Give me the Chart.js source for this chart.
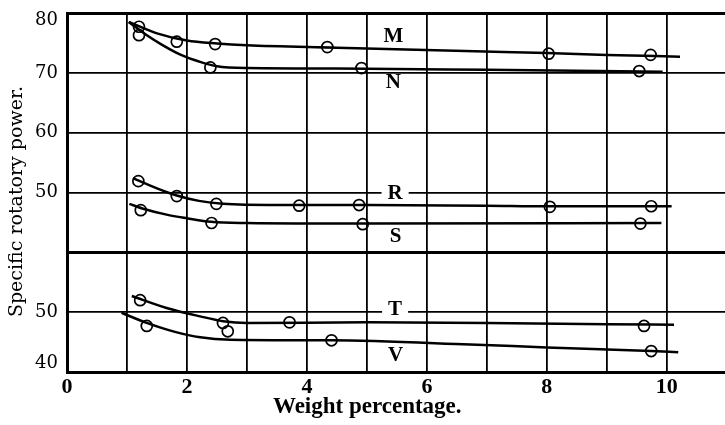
<!DOCTYPE html>
<html>
<head>
<meta charset="utf-8">
<script src="https://cdn.jsdelivr.net/npm/chart.js@4.4.0/dist/chart.umd.min.js"></script>
<style>
  html, body { margin: 0; padding: 0; background: #fff; }
  #wrap { width: 725px; height: 425px; }
</style>
</head>
<body>
<div id="wrap"><canvas id="myChart" width="725" height="425"></canvas></div>
<script>
// upper block (M N R S) is read on 40..80, lower block (T V) on 40..60,
// both stacked on one shared axis
const seriesNames = ["M", "N", "R", "S", "T", "V"];
const blockShift = [20, 20, 20, 20, 40, 40];

const pointsM = [[1.2, 77.7], [1.83, 75.2], [2.47, 74.8], [4.34, 74.3], [8.03, 73.2], [9.73, 73.0]];
const pointsN = [[1.2, 76.3], [2.39, 70.9], [4.91, 70.8], [9.54, 70.3]];
const pointsR = [[1.19, 51.9], [1.83, 49.4], [2.49, 48.1], [3.87, 47.8], [4.87, 47.9], [8.05, 47.6], [9.74, 47.7]];
const pointsS = [[1.23, 47.05], [2.41, 44.9], [4.93, 44.7], [9.56, 44.8]];
const pointsT = [[1.22, 52.0], [2.6, 48.2], [2.68, 46.8], [3.71, 48.3], [9.62, 47.7]];
const pointsV = [[1.33, 47.7], [4.41, 45.3], [9.74, 43.5]];

const curveM = [[1.03, 78.5], [1.5, 76.6], [2.0, 75.4], [2.5, 74.9], [3.0, 74.6], [4.5, 74.2], [6.8, 73.6], [8.0, 73.3], [9.0, 73.0], [10.22, 72.7]];
const curveN = [[1.03, 78.5], [1.3, 76.5], [1.6, 74.6], [1.9, 73.0], [2.2, 71.9], [2.5, 71.1], [3.0, 70.8], [5.0, 70.7], [7.0, 70.5], [9.93, 70.2]];
const curveR = [[1.1, 52.4], [1.5, 50.7], [1.83, 49.5], [2.2, 48.6], [2.6, 48.1], [3.5, 47.9], [5.0, 47.9], [7.0, 47.8], [8.0, 47.7], [10.08, 47.7]];
const curveS = [[1.04, 48.1], [1.3, 47.2], [1.66, 46.3], [2.0, 45.7], [2.4, 45.1], [3.0, 44.9], [5.0, 44.8], [9.91, 44.9]];
const curveT = [[1.08, 52.7], [1.66, 50.7], [2.22, 49.3], [2.6, 48.5], [3.0, 48.2], [5.0, 48.3], [7.0, 48.2], [9.0, 48.0], [10.12, 47.9]];
const curveV = [[0.91, 49.9], [1.33, 48.2], [1.8, 46.7], [2.22, 45.8], [2.72, 45.4], [4.4, 45.3], [6.72, 44.6], [8.0, 44.1], [9.74, 43.5], [10.19, 43.3]];

const yTickLabels = ["40", "50", "", "50", "60", "70", "80"];
const labelX = [5.44, 5.44, 5.47, 5.48, 5.47, 5.48];
const labelY = [76.0, 68.3, 49.8, 42.7, 50.4, 42.8];

const allPoints = [pointsM, pointsN, pointsR, pointsS, pointsT, pointsV];
const allCurves = [curveM, curveN, curveR, curveS, curveT, curveV];

function toXY(list, shift) {
  return list.map(p => ({x: p[0], y: p[1] - shift}));
}

var datasets = [];
seriesNames.forEach((name, i) => {
  datasets.push({
    label: name + " curve",
    data: toXY(allCurves[i], blockShift[i]),
    borderColor: "#000",
    borderWidth: 2.5,
    pointRadius: 0,
    cubicInterpolationMode: "monotone",
    fill: false
  });
  datasets.push({
    label: name,
    data: toXY(allPoints[i], blockShift[i]),
    showLine: false,
    pointRadius: 5.5,
    pointBorderWidth: 1.7,
    pointBorderColor: "#000",
    pointBackgroundColor: "rgba(0,0,0,0)"
  });
});

const seriesLabels = {
  id: "seriesLabels",
  afterDatasetsDraw(chart) {
    const ctx = chart.ctx;
    const xs = chart.scales.x, ys = chart.scales.y;
    ctx.save();
    ctx.font = "bold 21px 'Liberation Serif'";
    ctx.textAlign = "center";
    ctx.textBaseline = "middle";
    seriesNames.forEach((name, i) => {
      const px = xs.getPixelForValue(labelX[i]);
      const py = ys.getPixelForValue(labelY[i] - blockShift[i]);
      const w = ctx.measureText(name).width + 12;
      ctx.fillStyle = "#fff";
      ctx.fillRect(px - w / 2, py - 5, w, 10);
      ctx.fillStyle = "#000";
      ctx.fillText(name, px, py);
    });
    ctx.restore();
  }
};

new Chart("myChart", {
  type: "line",
  data: { datasets: datasets },
  plugins: [seriesLabels],
  options: {
    responsive: false,
    animation: false,
    devicePixelRatio: 1,
    layout: { autoPadding: false, padding: { top: 13, right: 0, left: 0, bottom: 0 } },
    plugins: { legend: { display: false }, tooltip: { enabled: false } },
    scales: {
      x: {
        type: "linear",
        min: 0,
        max: 10.97,
        afterFit: s => { s.height = 53; s.paddingLeft = 0; s.paddingRight = 0; },
        border: { display: true, color: "#000", width: 3 },
        grid: { color: "#000", lineWidth: 1.8, drawTicks: false },
        ticks: {
          stepSize: 1,
          includeBounds: false,
          padding: 2,
          color: "#000",
          font: { family: "'Liberation Serif'", size: 22, weight: "bold" },
          callback: v => (v % 2 === 0 ? String(v) : "")
        },
        title: {
          display: true,
          text: "Weight percentage.          ",
          color: "#000",
          font: { family: "'Liberation Serif'", size: 23, weight: "bold" },
          padding: { top: 0, bottom: 4 }
        }
      },
      y: {
        type: "linear",
        min: 0,
        max: 60,
        afterFit: s => { s.width = 67; s.paddingTop = 0; s.paddingBottom = 0; },
        border: { display: true, color: "#000", width: 3 },
        grid: {
          color: "#000",
          drawTicks: false,
          lineWidth: c => (c.tick && (c.tick.value === 20 || c.tick.value === 60) ? 3 : 1.8)
        },
        ticks: {
          stepSize: 10,
          padding: 9,
          color: "#000",
          font: c => {
            var lh = 1.2;
            if (c.tick && c.tick.value === 60) lh = "14px";
            if (c.tick && c.tick.value === 0) lh = "18px";
            return { family: "'DejaVu Serif'", size: 18, lineHeight: lh };
          },
          callback: v => {
            const t = yTickLabels[Math.round(v / 10)];
            if (v === 60) return ["", t];
            if (v === 0) return [t, ""];
            return t;
          }
        },
        title: {
          display: true,
          text: "Specific rotatory power.   ",
          color: "#000",
          font: { family: "'DejaVu Serif'", size: 19 },
          padding: { top: 6, bottom: 0 }
        }
      }
    }
  }
});
</script>
</body>
</html>
